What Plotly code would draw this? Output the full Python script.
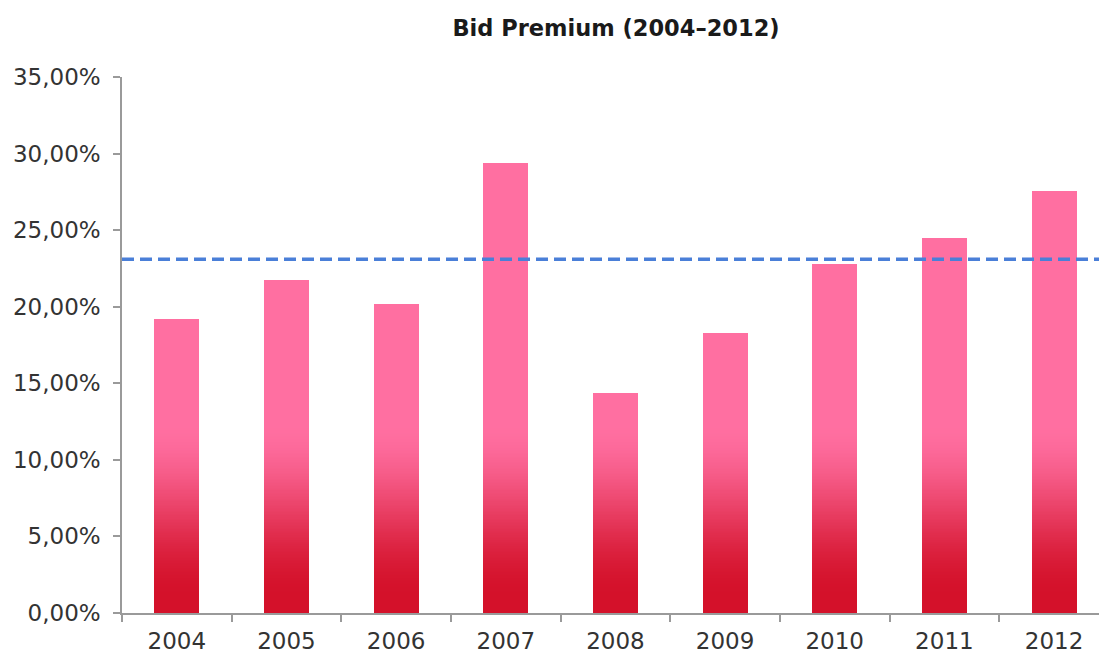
import plotly.graph_objects as go
import numpy as np

# Data
years = ["2004", "2005", "2006", "2007", "2008", "2009", "2010", "2011", "2012"]
premium = [19.2, 21.75, 20.18, 29.4, 14.37, 18.28, 22.8, 24.5, 27.56]  # percent
reference_level = 23.1  # dashed line, percent
y_ticks = [0, 5, 10, 15, 20, 25, 30, 35]
y_tick_labels = ["0,00%", "5,00%", "10,00%", "15,00%", "20,00%", "25,00%", "30,00%", "35,00%"]

# Vertical colour ramp: deep red at the base blending smoothly into pink
base_rgb = np.array([212, 17, 42])
top_rgb = np.array([255, 111, 161])
ramp_start, ramp_end = 1.0, 12.5


def ramp_color(v):
    t = np.clip((v - ramp_start) / (ramp_end - ramp_start), 0, 1)
    t = t * t * (3 - 2 * t)
    c = base_rgb + (top_rgb - base_rgb) * t
    return f"rgb({c[0]:.0f},{c[1]:.0f},{c[2]:.0f})"


fig = go.Figure()

# Bars are built as thin vertical bands so each bar carries the colour ramp
step = 0.1
bands = np.arange(0, ramp_end, step)
vals = np.array(premium)
for lo in bands:
    remaining = np.clip(vals - lo, 0, None)
    seg = np.minimum(remaining, step + 0.03)
    fig.add_trace(go.Bar(
        x=years, y=seg, base=[lo] * len(years),
        width=0.41, marker=dict(color=ramp_color(lo + step / 2), line=dict(width=0)),
        showlegend=False, hoverinfo="skip"))

# Upper solid-pink part of each bar
fig.add_trace(go.Bar(
    x=years, y=np.clip(vals - ramp_end, 0, None), base=[ramp_end] * len(years),
    width=0.41, marker=dict(color=ramp_color(ramp_end), line=dict(width=0)),
    showlegend=False, customdata=premium,
    hovertemplate="%{x}: %{customdata:.2f}%<extra></extra>"))

# Dashed reference line
fig.add_shape(type="line", xref="paper", yref="y", x0=0, x1=1,
              y0=reference_level, y1=reference_level,
              line=dict(color="#4a7fd8", width=3.5, dash="12px,6px"), layer="above")

axis_col = "#9a9a9a"
font_family = "DejaVu Sans, Arial, sans-serif"

fig.update_layout(
    width=1099, height=654,
    margin=dict(l=122, r=0, t=77, b=41),
    paper_bgcolor="white", plot_bgcolor="white",
    barmode="overlay", bargap=0,
    title=dict(text="<b>Bid Premium (2004–2012)</b>",
               x=616 / 1099, xanchor="center", xref="container",
               y=1 - 28 / 654, yanchor="middle", yref="container",
               font=dict(family=font_family, size=22.5, color="#1a1a1a")),
    font=dict(family=font_family, color="#333333"),
)

fig.update_xaxes(
    type="category", range=[-0.5, 8.41],
    showline=True, linecolor=axis_col, linewidth=1.5,
    ticks="outside", tickson="boundaries", ticklen=7, tickcolor=axis_col, tickwidth=1.5,
    tickfont=dict(size=23, color="#333333"),
    showgrid=False, zeroline=False, ticklabelstandoff=7,
)
fig.update_yaxes(
    range=[0, 35], tickvals=y_ticks, ticktext=y_tick_labels,
    showline=True, linecolor=axis_col, linewidth=1.5,
    ticks="outside", ticklen=7, tickcolor=axis_col, tickwidth=1.5,
    tickfont=dict(size=23, color="#333333"),
    showgrid=False, zeroline=False, ticklabelstandoff=8,
)

fig.write_html("out.html")
